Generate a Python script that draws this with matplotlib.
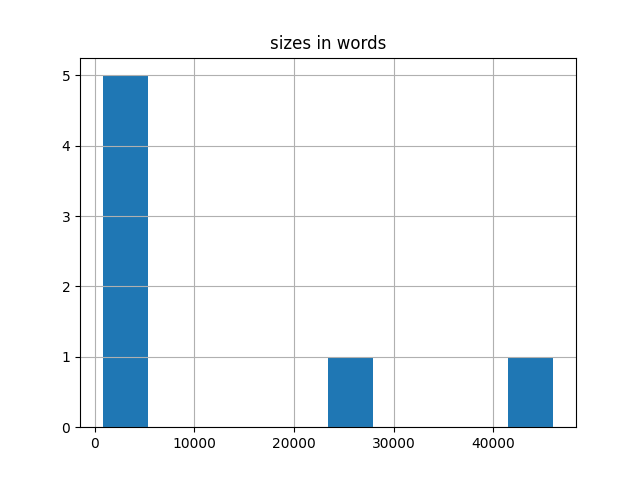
import matplotlib
matplotlib.use('Agg')
import matplotlib.pyplot as plt
import pandas as pd

# word counts per document (estimated from the histogram)
sizes = [800, 1500, 2300, 3100, 4200, 25000, 46030]

df = pd.DataFrame({'sizes in words': sizes})

fig, ax = plt.subplots(figsize=(6.4, 4.8), dpi=100)
df.hist(column='sizes in words', bins=10, ax=ax, color='#1f77b4')
ax.set_title('sizes in words')

fig.savefig('out.png')
